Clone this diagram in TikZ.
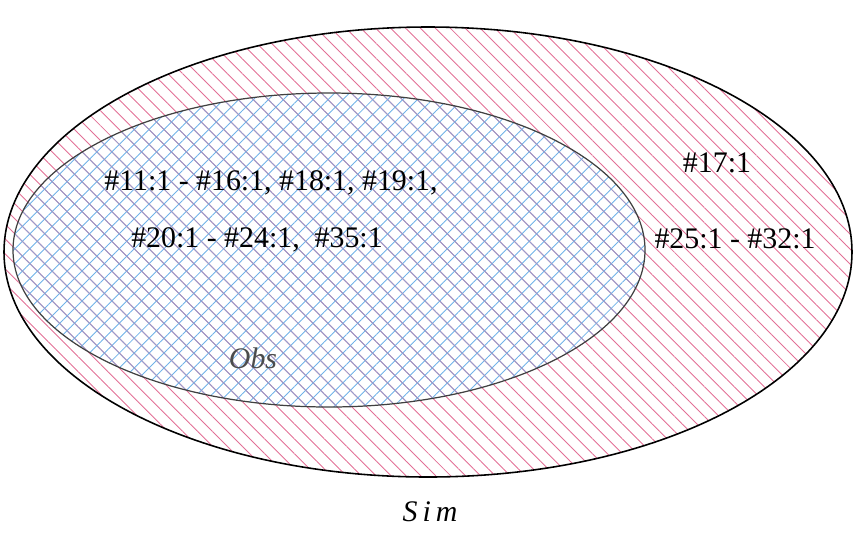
\documentclass[tikz,border=0pt]{standalone}
\usepackage{fontspec}
\setmainfont{Liberation Serif}
\usetikzlibrary{patterns.meta}
\definecolor{simpink}{RGB}{226,112,150}
\definecolor{obsblue}{RGB}{112,178,232}
\begin{document}
\begin{tikzpicture}[x=0.02cm,y=-0.02cm,
  setlabel/.style={font=\fontsize{17}{20}\selectfont},
  setname/.style={font=\fontsize{17}{20}\selectfont\itshape}]
  \useasboundingbox (0,0) rectangle (855,532);

  % Sim set (outer)
  \fill[pattern={Lines[angle=-45,distance=6pt,line width=0.5pt]},pattern color=simpink]
    (428,252) ellipse (424 and 225);

  % Obs set (inner), cross hatched
  \fill[pattern={Lines[angle=45,distance=6pt,line width=0.5pt]},pattern color=obsblue]
    (329,250) ellipse (316 and 157);
  \fill[pattern={Lines[angle=-45,distance=6pt,line width=0.5pt]},pattern color=obsblue!70!simpink]
    (329,250) ellipse (316 and 157);

  % Outlines
  \draw[line width=0.9pt] (428,252) ellipse (424 and 225);
  \draw[line width=0.7pt,black!75] (329,250) ellipse (316 and 157);

  % Members
  \node[setlabel] (obsA) at (271,183) {\#11:1 - \#16:1, \#18:1, \#19:1,};
  \node[setlabel] (obsB) at (257,240) {\#20:1 - \#24:1,\ \ \#35:1};
  \node[setlabel] (simA) at (717,163) {\#17:1};
  \node[setlabel] (simB) at (735,239) {\#25:1 - \#32:1};

  % Set names
  \node[setname,black!70] (obs) at (253,358) {Obs};
  \node[setname] (sim) at (430,512) {S\,i\,m};
\end{tikzpicture}
\end{document}
